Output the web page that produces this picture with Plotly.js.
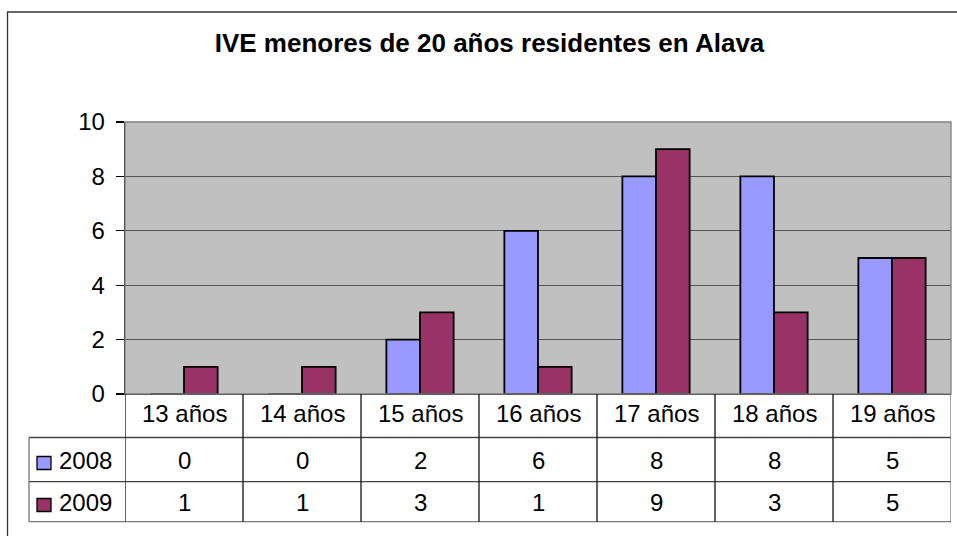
<!DOCTYPE html>
<html>
<head>
<meta charset="utf-8">
<script src="https://cdn.plot.ly/plotly-3.0.1.min.js"></script>
<style>html,body{margin:0;padding:0;background:#fff;}#chart{width:957px;height:536px;}</style>
</head>
<body>
<div id="chart"></div>
<script>
const categories = ['13 años', '14 años', '15 años', '16 años', '17 años', '18 años', '19 años'];
const values2008 = [0, 0, 2, 6, 8, 8, 5];
const values2009 = [1, 1, 3, 1, 9, 3, 5];
const seriesNames = ['2008', '2009'];
const seriesValues = [values2008, values2009];
const seriesColors = ['#9999FF', '#993366'];
const yTicks = [0, 2, 4, 6, 8, 10];
const titleText = 'IVE menores de 20 años residentes en Alava';

const FONT = 'Liberation Sans, Arial, Helvetica, sans-serif';
const WIDTH = 957, HEIGHT = 536;
const L = 125, R = 951, T = 122, B = 394;
const PW = R - L, PH = B - T;
const px = v => (v - L) / PW;
const py = v => (B - v) / PH;

const rowTops = [394, 437.5, 481.7, 521.7];
const rowCenters = [413, 460, 502];
const tableLeft = 29;
const gridLine = '#444';
const TXT = 24;

const traces = seriesNames.map((name, i) => ({
  type: 'bar',
  name: name,
  x: categories,
  y: seriesValues[i],
  marker: { color: seriesColors[i], line: { color: '#000', width: 1.8 } },
  hoverinfo: 'x+y+name'
}));

const shapes = [];
// outer chart border
shapes.push({ type: 'rect', xref: 'paper', yref: 'paper', x0: px(7.5), x1: px(970), y0: py(550), y1: py(12),
  line: { color: '#333', width: 1.3 }, fillcolor: 'rgba(0,0,0,0)', layer: 'above' });
// plot area border (gray)
shapes.push({ type: 'rect', xref: 'paper', yref: 'paper', x0: 0, x1: 1, y0: 0, y1: 1,
  line: { color: '#808080', width: 1.3 }, fillcolor: 'rgba(0,0,0,0)', layer: 'above' });
// table horizontal lines
[rowTops[1], rowTops[2], rowTops[3]].forEach((yy, k) => {
  shapes.push({ type: 'line', xref: 'paper', yref: 'paper', x0: px(tableLeft), x1: 1, y0: py(yy), y1: py(yy),
    line: { color: k === 2 ? '#777' : gridLine, width: 1.3 } });
});
// table left border
shapes.push({ type: 'line', xref: 'paper', yref: 'paper', x0: px(tableLeft), x1: px(tableLeft), y0: py(rowTops[1]), y1: py(rowTops[3]),
  line: { color: '#777', width: 1.3 } });
// table column boundaries
for (let i = 0; i <= categories.length; i++) {
  shapes.push({ type: 'line', xref: 'x', yref: 'paper', x0: i - 0.5, x1: i - 0.5, y0: py(rowTops[0]), y1: py(rowTops[3]),
    line: { color: i === categories.length ? '#777' : '#111', width: 1.3 } });
}
// legend keys
seriesNames.forEach((name, i) => {
  const cy = rowCenters[i + 1];
  shapes.push({ type: 'rect', xref: 'paper', yref: 'paper', x0: px(37), x1: px(51), y0: py(cy + 3 + 6.5), y1: py(cy + 3 - 6.5),
    line: { color: '#000', width: 1.3 }, fillcolor: seriesColors[i] });
});

const annotations = [];
categories.forEach((c, i) => {
  annotations.push({ xref: 'x', yref: 'paper', x: i, y: py(rowCenters[0]), text: c, showarrow: false,
    xanchor: 'center', yanchor: 'middle', font: { family: FONT, size: TXT, color: '#000' } });
  seriesValues.forEach((vals, s) => {
    annotations.push({ xref: 'x', yref: 'paper', x: i, y: py(rowCenters[s + 1]), text: String(vals[i]), showarrow: false,
      xanchor: 'center', yanchor: 'middle', font: { family: FONT, size: TXT, color: '#000' } });
  });
});
seriesNames.forEach((name, s) => {
  annotations.push({ xref: 'paper', yref: 'paper', x: px(57), y: py(rowCenters[s + 1]), text: name, showarrow: false,
    xanchor: 'left', yanchor: 'middle', font: { family: FONT, size: TXT, color: '#000' } });
});

const layout = {
  width: WIDTH, height: HEIGHT,
  margin: { l: L, r: WIDTH - R, t: T, b: HEIGHT - B, pad: 0 },
  paper_bgcolor: '#fff',
  plot_bgcolor: '#C0C0C0',
  showlegend: false,
  barmode: 'group',
  bargap: 0.43,
  bargroupgap: 0,
  title: { text: '<b>' + titleText + '</b>', x: 489.5 / WIDTH, xanchor: 'center', y: 1 - 43 / HEIGHT, yanchor: 'middle',
    font: { family: FONT, size: 26, color: '#000' } },
  xaxis: { type: 'category', range: [-0.5, categories.length - 0.5], showticklabels: false, ticks: '',
    showgrid: false, showline: true, linecolor: '#000', linewidth: 1.3, zeroline: false, fixedrange: true },
  yaxis: { range: [0, 10], tickvals: yTicks, ticktext: yTicks.map(String), ticks: 'outside', ticklen: 8, tickcolor: '#000', tickwidth: 1.3,
    ticklabelstandoff: 6,
    showgrid: true, gridcolor: '#555', gridwidth: 1, showline: true, linecolor: '#000', linewidth: 1.3, zeroline: false,
    tickfont: { family: FONT, size: TXT, color: '#000' }, fixedrange: true },
  shapes: shapes,
  annotations: annotations
};

Plotly.newPlot('chart', traces, layout, { displayModeBar: false, staticPlot: true });
</script>
</body>
</html>
